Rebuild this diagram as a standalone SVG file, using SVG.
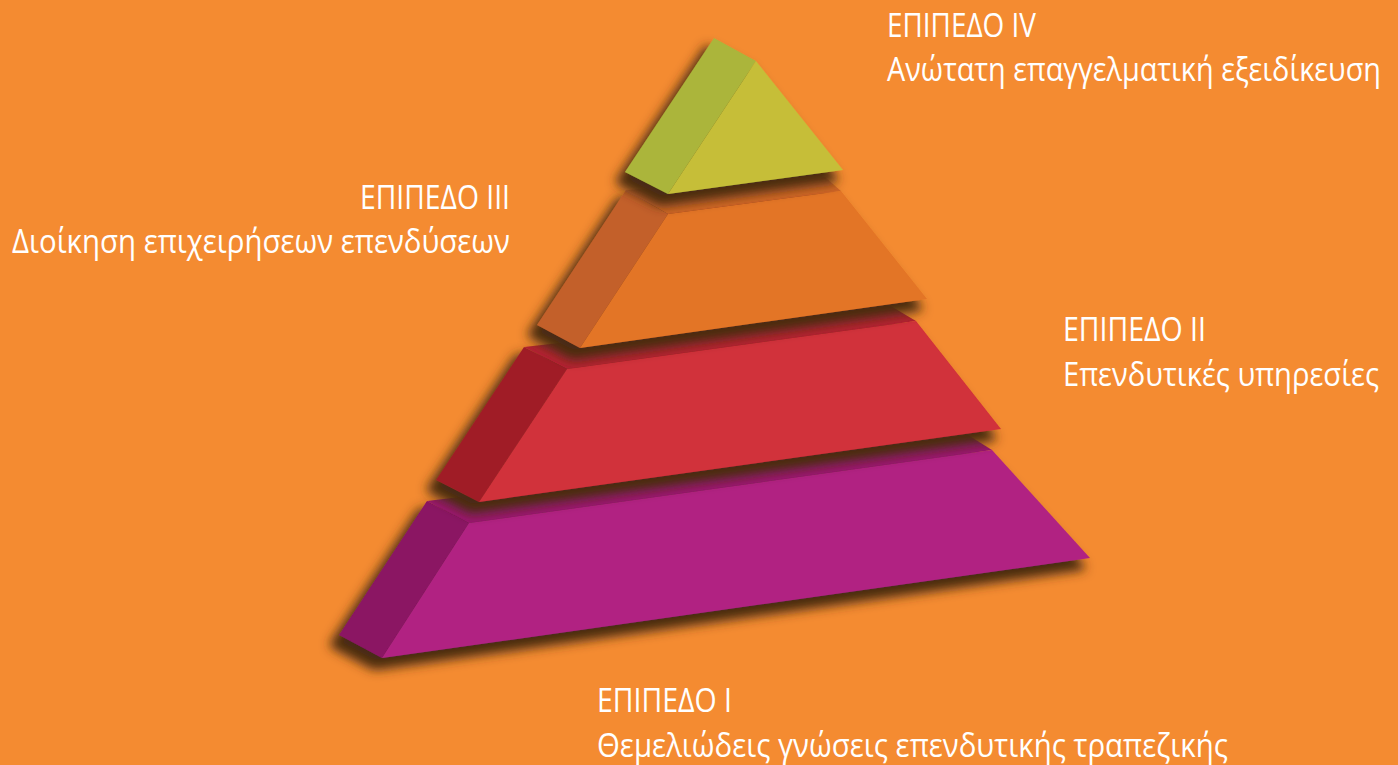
<svg xmlns="http://www.w3.org/2000/svg" width="1398" height="765" viewBox="0 0 1398 765">
  <defs>
    <filter id="shadow" x="-20%" y="-20%" width="140%" height="150%">
      <feMorphology in="SourceAlpha" operator="dilate" radius="2" result="d"/>
      <feGaussianBlur in="d" stdDeviation="5.5"/>
      <feOffset dx="-7" dy="10" result="b"/>
      <feFlood flood-color="#4a2c12" flood-opacity="1"/>
      <feComposite in2="b" operator="in"/>
      <feMerge>
        <feMergeNode/>
        <feMergeNode in="SourceGraphic"/>
      </feMerge>
    </filter>
    <style>
      .lbl { font-family: "Open Sans", "Noto Sans", "Liberation Sans", sans-serif; font-size: 33px; fill: #ffffff; }
    </style>
  </defs>
  <rect x="0" y="0" width="1398" height="765" fill="#F48B31"/>

  <g id="level1" filter="url(#shadow)">
    <polygon points="427,501 968,435 992,450 469,523" fill="#9A1870"/>
    <polygon points="427,501 469,523 382,658 339,635" fill="#8B1264"/>
    <polygon points="469,523 992,450 1090,558 382,658" fill="#B12282"/>
  </g>

  <g id="level2" filter="url(#shadow)">
    <polygon points="524,347 889,305 916,321 567,369" fill="#B32430"/>
    <polygon points="524,347 567,369 479,502 436,480" fill="#A01F27"/>
    <polygon points="567,369 916,321 1001,429 479,502" fill="#D1303A"/>
  </g>

  <g id="level3" filter="url(#shadow)">
    <polygon points="626,190 825,177 841,191 668,214" fill="#CE6628"/>
    <polygon points="626,190 668,214 580,348 537,325" fill="#C3602B"/>
    <polygon points="668,214 841,191 927,299 580,348" fill="#E37425"/>
  </g>

  <g id="level4" filter="url(#shadow)">
    <polygon points="714,38 756,61 668,194 625,172" fill="#ABB53A"/>
    <polygon points="756,61 843,170 668,194" fill="#C6BE38"/>
  </g>

  <g id="label4">
    <text class="lbl" x="887" y="37" textLength="149" lengthAdjust="spacingAndGlyphs">ΕΠΙΠΕΔΟ IV</text>
    <text class="lbl" x="887" y="81" textLength="494" lengthAdjust="spacingAndGlyphs">Ανώτατη επαγγελματική εξειδίκευση</text>
  </g>
  <g id="label3">
    <text class="lbl" x="360" y="209" textLength="150" lengthAdjust="spacingAndGlyphs">ΕΠΙΠΕΔΟ III</text>
    <text class="lbl" x="12" y="253" textLength="498" lengthAdjust="spacingAndGlyphs">Διοίκηση επιχειρήσεων επενδύσεων</text>
  </g>
  <g id="label2">
    <text class="lbl" x="1063" y="341" textLength="143" lengthAdjust="spacingAndGlyphs">ΕΠΙΠΕΔΟ II</text>
    <text class="lbl" x="1063" y="386" textLength="316" lengthAdjust="spacingAndGlyphs">Επενδυτικές υπηρεσίες</text>
  </g>
  <g id="label1">
    <text class="lbl" x="597" y="712" textLength="135" lengthAdjust="spacingAndGlyphs">ΕΠΙΠΕΔΟ I</text>
    <text class="lbl" x="597" y="757" textLength="631" lengthAdjust="spacingAndGlyphs">Θεμελιώδεις γνώσεις επενδυτικής τραπεζικής</text>
  </g>
</svg>
